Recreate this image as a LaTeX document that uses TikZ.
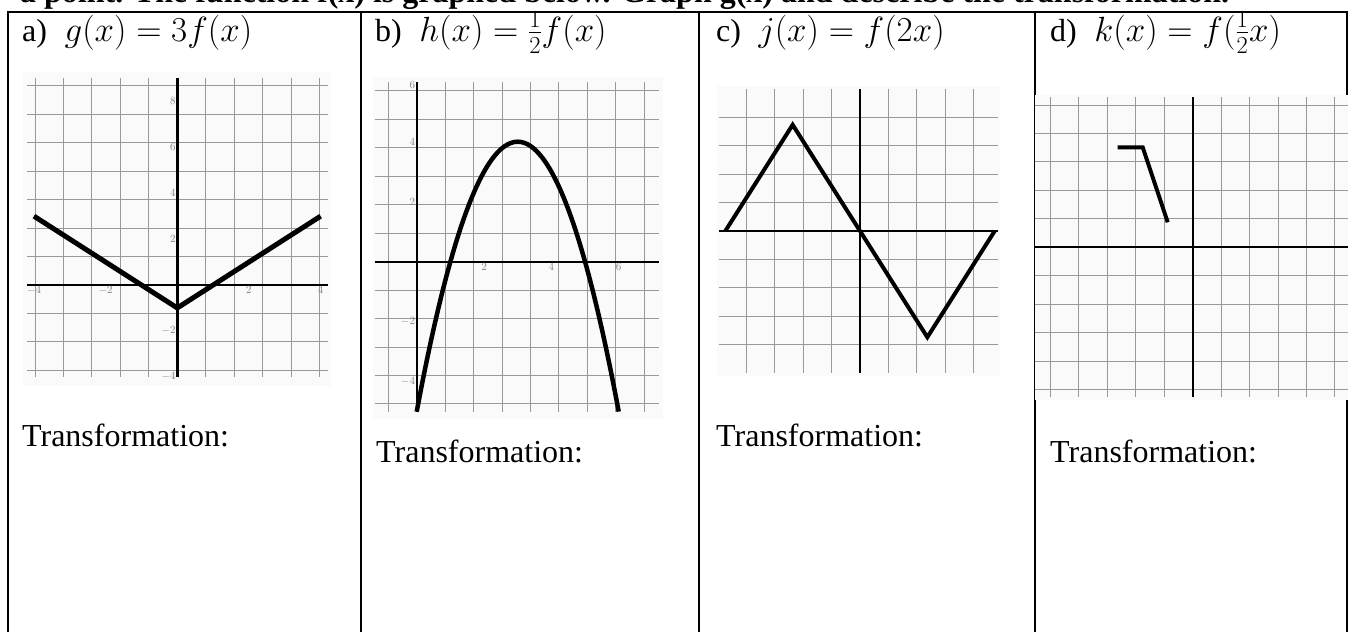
\RequirePackage{fix-cm}
\documentclass[tikz,border=0pt]{standalone}
\usepackage{fontspec}
\setmainfont{Liberation Serif}
\usetikzlibrary{positioning}

\newcommand{\headmath}[1]{{\fontsize{35}{40}\selectfont$#1$}}

\tikzset{
  cell/.style={line width=2pt},
  gridline/.style={draw=gray!80, line width=1pt},
  axisline/.style={line width=2.4pt},
  curve/.style={line width=4.5pt, line join=round},
  ticklab/.style={text=gray, font=\fontsize{11}{12}\selectfont, inner sep=1.5pt},
  head/.style={anchor=base west, inner sep=0pt, font=\fontsize{32}{38}\selectfont},
  imgbg/.style={fill=black!2},
}

\begin{document}
\begin{tikzpicture}[x=1pt, y=-1pt]
\useasboundingbox (0,0) rectangle (1354,632);

% first line of the sheet, cut off by the page
\node[head, font=\fontsize{32}{38}\selectfont\bfseries] (title) at (20,2.5) {a point. The function f(x) is graphed below. Graph g(x) and describe the transformation.};

% table
\draw[cell] (7.5,632) -- (7.5,12) -- (1347,12) -- (1347,632);
\foreach \xc in {361,699,1035} \draw[cell] (\xc,12) -- (\xc,632);

\node[head] (heada) at (22,41) {a)\hspace{0.3em} \headmath{g(x) = 3f(x)}};
\node[head] (headb) at (375,41) {b)\hspace{0.3em} \headmath{h(x) = \frac{1}{2}f(x)}};
\node[head] (headc) at (716,41) {c)\hspace{0.3em} \headmath{j(x) = f(2x)}};
\node[head] (headd) at (1050,41) {d)\hspace{0.3em} \headmath{k(x) = f(\frac{1}{2}x)}};

\node[head] (transa) at (22,446) {Transformation:};
\node[head] (transb) at (376,462) {Transformation:};
\node[head] (transc) at (716,446) {Transformation:};
\node[head] (transd) at (1050,462) {Transformation:};

% a) g(x)=3f(x)
\begin{scope}[shift={(177.3,285)}, x=35.83pt, y=22.95pt]
  \fill[imgbg] (-4.3,-4.4) rectangle (4.3,9.3);
  \draw[gridline] (-4.2,-4) grid (4.2,9);
  \draw[axisline] (-4.2,0) -- (4.2,0) (0,-4) -- (0,9);
  \foreach \yv in {8,6,4,2,-2,-4} \node[ticklab, left] at (0,\yv) {$\yv$};
  \foreach \xv in {-4,-2,2,4} \node[ticklab, below] at (\xv,0) {$\xv$};
  \draw[curve, line width=5pt] (-4,3) -- (0,-1) -- (4,3);
\end{scope}

% b) h(x)=1/2 f(x)
\begin{scope}[shift={(416.7,261.7)}, x=33.67pt, y=30pt]
  \fill[imgbg] (-1.3,-5.25) rectangle (7.3,6.15);
  \draw[gridline] (-1.25,-5) grid (7.2,6);
  \draw[axisline] (-1.25,0) -- (7.2,0) (0,-5) -- (0,6);
  \foreach \yv in {4,2,-2,-4} \node[ticklab, left] at (0,\yv) {$\yv$};
  \node[ticklab, left, yshift=-3pt] at (0,6) {$6$};
  \foreach \xv in {2,4,6} \node[ticklab, below] at (\xv,0) {$\xv$};
  \draw[curve] plot[domain=0:6, samples=61, smooth] (\x, {-(\x-1)*(\x-5)});
\end{scope}

% c) j(x)=f(2x)
\begin{scope}[shift={(860,231)}, x=33.67pt, y=35.4pt]
  \fill[imgbg] (-4.25,-4.1) rectangle (4.15,4.1);
  \draw[gridline] (-4.2,-4) grid (4.1,4);
  \draw[axisline, line width=2pt] (-4.2,0) -- (4.1,0) (0,-4) -- (0,4);
  \draw[curve, line width=4pt, line join=miter] (-4,0) -- (-2,3) -- (0,0) -- (2,-3) -- (4,0);
\end{scope}

% d) k(x)=f(1/2 x)
\begin{scope}[shift={(1192.7,247.3)}, x=25pt, y=25pt]
  \fill[imgbg] (-6.3,-6.1) rectangle (6.2,6.1);
  \draw[gridline] (-6.3,-6) grid (6.2,6);
  \draw[axisline, line width=2pt] (-6.3,0) -- (6.2,0) (0,-6) -- (0,6);
  \draw[curve, line width=4pt, line join=miter] (-3,4) -- (-2,4) -- (-1,1);
\end{scope}
\end{tikzpicture}
\end{document}
